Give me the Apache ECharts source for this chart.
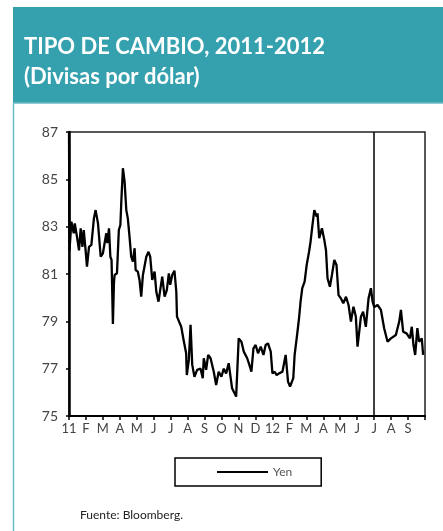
<!DOCTYPE html>
<html>
<head>
<meta charset="utf-8">
<title>Tipo de cambio</title>
<script src="https://cdn.jsdelivr.net/npm/echarts@6/dist/echarts.min.js"></script>
<style>
    html, body {margin: 0; padding: 0; background: #fff;}
    #chart {width: 443px; height: 531px;}
</style>
</head>
<body>
<div id="chart"></div>
<script>
// meses desde ene-2011 (0 = 1 ene 2011)
var mes = [0, 0.03, 0.14, 0.28, 0.34, 0.47, 0.59, 0.69, 0.79, 0.87, 0.98, 1.06, 1.18, 1.32, 1.47, 1.57, 1.71, 1.87,
    2.00, 2.10, 2.20, 2.26, 2.36, 2.44, 2.51, 2.59, 2.65, 2.69, 2.83, 2.94, 3.03, 3.09, 3.18, 3.28, 3.38, 3.47,
    3.57, 3.67, 3.77, 3.87, 3.93, 4.06, 4.16, 4.26, 4.36, 4.46, 4.56, 4.69, 4.79, 4.91, 5.05, 5.15, 5.28, 5.38,
    5.50, 5.64, 5.77, 5.89, 5.97, 6.09, 6.22, 6.33, 6.37, 6.62, 6.76, 6.91, 6.95, 7.07, 7.17, 7.27, 7.40, 7.56,
    7.76, 7.89, 7.95, 8.09, 8.21, 8.35, 8.54, 8.68, 8.83, 8.99, 9.13, 9.27, 9.42, 9.62, 9.86, 10.01, 10.17, 10.31,
    10.51, 10.64, 10.76, 10.88, 11.01, 11.15, 11.31, 11.47, 11.60, 11.74, 11.90, 12.00, 12.13, 12.25, 12.39, 12.59,
    12.78, 12.92, 13.04, 13.23, 13.31, 13.43, 13.57, 13.66, 13.76, 13.90, 14.02, 14.16, 14.25, 14.35, 14.47, 14.61,
    14.66, 14.76, 14.92, 15.06, 15.16, 15.25, 15.39, 15.51, 15.65, 15.78, 15.90, 16.04, 16.18, 16.34, 16.49, 16.63,
    16.78, 16.92, 17.02, 17.22, 17.35, 17.51, 17.67, 17.81, 17.91, 18.01, 18.20, 18.40, 18.59, 18.79, 18.99, 19.28,
    19.48, 19.58, 19.71, 19.91, 20.11, 20.22, 20.32, 20.42, 20.55, 20.65, 20.81, 20.89];
var yen = [87, 82.0, 83.21, 82.72, 83.14, 82.58, 82.0, 82.93, 82.15, 82.86, 82.0, 81.31, 82.15, 82.23, 83.35, 83.7, 83.14, 81.73,
    81.87, 82.3, 82.72, 82.3, 82.93, 81.73, 81.6, 78.89, 80.6, 80.96, 81.03, 82.86, 83.07, 84.13, 85.47, 84.9, 83.7, 83.35,
    82.58, 81.73, 81.52, 82.09, 81.17, 81.1, 80.75, 80.04, 80.96, 80.89, 81.73, 81.94, 81.73, 80.75, 81.1, 80.25, 79.83, 80.32,
    80.89, 80.04, 80.32, 81.03, 80.54, 80.96, 81.14, 80.25, 79.2, 78.77, 78.21, 77.65, 76.73, 77.37, 78.85, 77.16, 76.66, 76.95,
    77.0, 76.6, 77.44, 76.95, 77.58, 77.44, 76.87, 76.31, 76.87, 76.66, 77.0, 76.8, 77.23, 76.17, 75.82, 78.28, 78.14, 77.72,
    77.44, 77.16, 76.87, 77.86, 78.0, 77.65, 77.93, 77.58, 78.0, 78.07, 77.72, 76.8, 76.87, 76.73, 76.8, 76.87,
    77.58, 76.45, 76.24, 76.6, 77.58, 78.28, 79.13, 79.83, 80.4, 80.68, 81.38, 81.94, 82.37, 83.0, 83.7, 83.42,
    83.56, 82.51, 82.93, 82.44, 82.0, 80.82, 80.46, 80.96, 81.59, 81.38, 80.11, 79.97, 79.76, 80.04, 79.69, 78.99,
    79.62, 79.2, 77.93, 79.2, 79.41, 78.77, 79.97, 80.4, 79.83, 79.6, 79.69, 79.48, 78.71, 78.14, 78.28, 78.42,
    78.99, 79.48, 78.56, 78.49, 78.28, 78.77, 78.0, 77.58, 78.71, 78.14, 78.28, 77.58];
var etiquetasMes = ['11', 'F', 'M', 'A', 'M', 'J', 'J', 'A', 'S', 'O', 'N', 'D',
    '12', 'F', 'M', 'A', 'M', 'J', 'J', 'A', 'S'];
var lineaVertical = [18];

var CHART = {
    font: 'Lato, "Open Sans", sans-serif',
    init: function(){
        var _this = this;
        var myChart = echarts.init(document.getElementById('chart'));
        myChart.setOption(_this.build_option());
    },
    build_data: function(){
        var data = [];
        for (var i = 0; i < mes.length; i++) data.push([mes[i], yen[i]]);
        return data;
    },
    build_option: function(){
        var _this = this;
        return {
            animation: false,
            title: {
                text: 'TIPO DE CAMBIO, 2011-2012\n(Divisas por dólar)',
                left: 19,
                top: 27,
                textStyle: {
                    color: '#fff',
                    fontSize: 22,
                    fontWeight: 'bold',
                    fontFamily: _this.font,
                    lineHeight: 30
                }
            },
            graphic: [
                {type: 'rect', z: -1, shape: {x: 13, y: 7, width: 440, height: 96}, style: {fill: '#35a1af'}},
                {type: 'rect', z: -1, shape: {x: 13.5, y: 103, width: 440, height: 440},
                    style: {fill: 'none', stroke: '#6bbcc6', lineWidth: 1.5}},
                {type: 'text', left: 80, top: 509, style: {text: 'Fuente: Bloomberg.', fill: '#222',
                    font: '12px ' + _this.font}}
            ],
            legend: {
                data: [{name: 'Yen', icon: 'rect'}],
                left: 175,
                top: 458,
                padding: [7, 29, 7, 42],
                borderColor: '#000',
                borderWidth: 1.5,
                itemWidth: 51,
                itemHeight: 2,
                itemGap: 6,
                itemStyle: {color: '#000'},
                textStyle: {color: '#555', fontSize: 12, fontFamily: _this.font, lineHeight: 14}
            },
            grid: {
                left: 69,
                right: 18,
                top: 132,
                bottom: 115,
                show: true,
                borderColor: '#222',
                borderWidth: 1.5
            },
            xAxis: {
                type: 'value',
                min: 0,
                max: 21,
                interval: 1,
                splitLine: {show: false},
                axisLine: {lineStyle: {color: '#000', width: 2}},
                axisTick: {length: 4, lineStyle: {color: '#000', width: 1.5}},
                axisLabel: {
                    color: '#444',
                    fontSize: 13,
                    fontFamily: _this.font,
                    margin: 6,
                    formatter: function(v){ return etiquetasMes[v] || ''; }
                }
            },
            yAxis: {
                type: 'value',
                min: 75,
                max: 87,
                interval: 2,
                splitLine: {show: false},
                axisLine: {show: true, lineStyle: {color: '#000', width: 2.5}},
                axisTick: {show: true, length: 3, lineStyle: {color: '#000', width: 1.5}},
                axisLabel: {color: '#444', fontSize: 14, fontFamily: _this.font, margin: 11}
            },
            series: [
                {
                    name: 'Yen',
                    type: 'line',
                    data: _this.build_data(),
                    symbol: 'none',
                    lineStyle: {color: '#000', width: 2.3},
                    itemStyle: {color: '#000'},
                    markLine: {
                        silent: true,
                        symbol: ['none', 'none'],
                        label: {show: false},
                        lineStyle: {color: '#000', width: 1.5, type: 'solid'},
                        data: lineaVertical.map(function(v){ return {xAxis: v}; })
                    }
                }
            ]
        };
    }
};

CHART.init();
</script>
</body>
</html>
